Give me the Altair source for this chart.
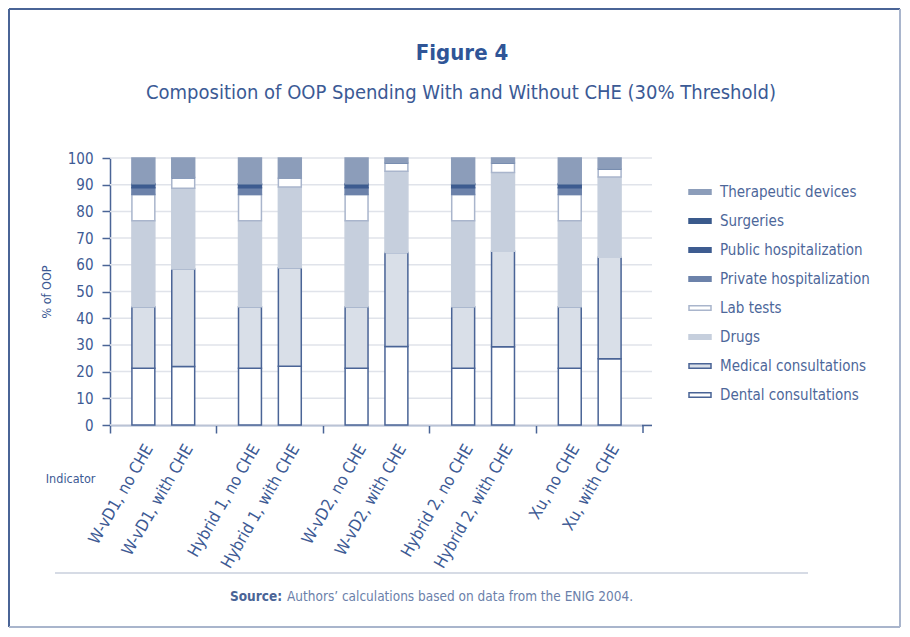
import altair as alt
import pandas as pd

# ---- data ----
groups = ["W-vD1", "Hybrid 1", "W-vD2", "Hybrid 2", "Xu"]
cases = ["no CHE", "with CHE"]
# stacking order, bottom to top
categories = ["Dental consultations", "Medical consultations", "Drugs", "Lab tests",
              "Private hospitalization", "Public hospitalization", "Surgeries",
              "Therapeutic devices"]
# values per category, one per group (W-vD1, Hybrid 1, W-vD2, Hybrid 2, Xu)
no_che = {
    "Dental consultations":    [21.3, 21.3, 21.3, 21.3, 21.3],
    "Medical consultations":   [23.0, 23.0, 23.0, 23.0, 23.0],
    "Drugs":                   [32.2, 32.2, 32.2, 32.2, 32.2],
    "Lab tests":               [9.8, 9.8, 9.8, 9.8, 9.8],
    "Private hospitalization": [2.6, 2.6, 2.6, 2.6, 2.6],
    "Public hospitalization":  [1.2, 1.2, 1.2, 1.2, 1.2],
    "Surgeries":               [0.3, 0.3, 0.3, 0.3, 0.3],
    "Therapeutic devices":     [9.6, 9.6, 9.6, 9.6, 9.6],
}
with_che = {
    "Dental consultations":    [21.9, 22.0, 29.4, 29.3, 24.8],
    "Medical consultations":   [36.5, 36.9, 35.2, 35.8, 38.0],
    "Drugs":                   [30.3, 30.2, 30.4, 29.5, 30.1],
    "Lab tests":               [4.0, 3.3, 3.1, 3.5, 3.0],
    "Private hospitalization": [0.0, 0.0, 0.0, 0.0, 0.0],
    "Public hospitalization":  [0.0, 0.0, 0.0, 0.0, 0.0],
    "Surgeries":               [0.0, 0.0, 0.0, 0.0, 0.0],
    "Therapeutic devices":     [7.3, 7.6, 1.9, 1.9, 4.1],
}
y_ticks = [0, 10, 20, 30, 40, 50, 60, 70, 80, 90, 100]
legend_order = categories[::-1]
fill_colors = {
    "Therapeutic devices": "#8c9dba",
    "Surgeries": "#3a5a8c",
    "Public hospitalization": "#3e5c90",
    "Private hospitalization": "#6c82aa",
    "Lab tests": "#ffffff",
    "Drugs": "#c6cfdd",
    "Medical consultations": "#d9dfe8",
    "Dental consultations": "#ffffff",
}
stroke_colors = {
    "Therapeutic devices": "#8c9dba",
    "Surgeries": "#3a5a8c",
    "Public hospitalization": "#3e5c90",
    "Private hospitalization": "#6c82aa",
    "Lab tests": "#a9b5cc",
    "Drugs": "#c6cfdd",
    "Medical consultations": "#4a6496",
    "Dental consultations": "#4a6496",
}

rows = []
for case, table in zip(cases, [no_che, with_che]):
    for gi, g in enumerate(groups):
        for ci, c in enumerate(categories):
            rows.append({"group": g, "case": case, "category": c, "ord": ci,
                         "value": table[c][gi], "label": f"{g}, {case}"})
df = pd.DataFrame(rows)
labels_df = df[df["ord"] == 0]
grid_df = pd.DataFrame({"v": y_ticks})

FONT = "DejaVu Sans Condensed, Liberation Sans Narrow, Lato, sans-serif"
W, H = 533, 267
PL, PT = 102, 150
TOTW, TOTH = 893, 620
yscale = alt.Scale(domain=[0, 100])
y_axis = alt.Axis(values=y_ticks, tickSize=8, grid=False, labelOverlap=False,
                  title="% of OOP", titleFontSize=12.5, titleFontWeight="normal",
                  titleColor="#3d5a94", titleFont=FONT, titlePadding=14,
                  labelFontSize=15, labelColor="#3d5a94", labelFont=FONT,
                  labelPadding=9)

xenc = alt.X("group:N", sort=groups,
             scale=alt.Scale(paddingInner=0, paddingOuter=0),
             axis=alt.Axis(labels=False, bandPosition=0, tickSize=8, grid=False,
                           title="Indicator", titleAngle=0, titleX=-15, titleY=53,
                           titleAlign="right", titleBaseline="middle",
                           titleFontSize=12.5, titleFontWeight="normal",
                           titleColor="#3d5a94", titleFont=FONT))
xoff = alt.XOffset("case:N", sort=cases,
                   scale=alt.Scale(paddingInner=0.425, paddingOuter=0.55))

grid = alt.Chart(grid_df).mark_rule(color="#e0e3ea", strokeWidth=1.5).encode(
    y=alt.Y("v:Q", scale=yscale, axis=y_axis), x=alt.value(0), x2=alt.value(W + 9))

bars = alt.Chart(df).mark_bar(strokeWidth=1.5).encode(
    x=xenc,
    xOffset=xoff,
    y=alt.Y("sum(value):Q", stack="zero", scale=yscale, axis=y_axis),
    fill=alt.Fill("category:N",
                  scale=alt.Scale(domain=legend_order,
                                  range=[fill_colors[c] for c in legend_order]),
                  legend=alt.Legend(title=None, orient="none", legendX=578, legendY=22)),
    stroke=alt.Stroke("category:N",
                      scale=alt.Scale(domain=legend_order,
                                      range=[stroke_colors[c] for c in legend_order]),
                      legend=alt.Legend(title=None, orient="none", legendX=578, legendY=22)),
    order=alt.Order("ord:Q", sort="ascending"),
)

bar_labels = alt.Chart(labels_df).mark_text(
    angle=300, align="right", baseline="middle", fontSize=16.5, font=FONT,
    color="#3d5a94", dx=3, dy=5
).encode(
    x=alt.X("group:N", sort=groups),
    xOffset=alt.XOffset("case:N", sort=cases),
    y=alt.value(H + 21),
    text="label:N",
)

end_tick = alt.Chart(grid_df.head(1)).mark_rule(color="#4a6496", strokeWidth=1.5).encode(
    x=alt.value(W), y=alt.value(H), y2=alt.value(H + 8))
axis_ext = alt.Chart(grid_df.head(1)).mark_rule(color="#4a6496", strokeWidth=1.5).encode(
    x=alt.value(W - 1), x2=alt.value(W + 9), y=alt.value(H + 0.5))

title_df = pd.DataFrame({"t": ["Figure 4"]})
sub_df = pd.DataFrame({"t": ["Composition of OOP Spending With and Without CHE (30% Threshold)"]})
title = alt.Chart(title_df).mark_text(fontSize=22, fontWeight="bold", font=FONT,
                                      color="#2f5597", align="center", baseline="alphabetic").encode(
    x=alt.value(462 - 110), y=alt.value(60 - 158), text="t:N")
subtitle = alt.Chart(sub_df).mark_text(fontSize=20, font=FONT, color="#3b5a95",
                                       align="center", baseline="alphabetic").encode(
    x=alt.value(461 - 110), y=alt.value(99 - 158), text="t:N")

src1_df = pd.DataFrame({"t": ["Source:"]})
src2_df = pd.DataFrame({"t": ["Authors\u2019 calculations based on data from the ENIG 2004."]})
src1 = alt.Chart(src1_df).mark_text(fontSize=13.5, fontWeight="bold", font=FONT,
                                    color="#4a6496", align="left", baseline="alphabetic").encode(
    x=alt.value(230 - 110), y=alt.value(601 - 158), text="t:N")
src2 = alt.Chart(src2_df).mark_text(fontSize=13.5, font=FONT, color="#6b7faa",
                                    align="left", baseline="alphabetic").encode(
    x=alt.value(287 - 110), y=alt.value(601 - 158), text="t:N")

sep = alt.Chart(title_df).mark_rule(color="#c9cfdc", strokeWidth=1.5).encode(
    x=alt.value(55 - 110), x2=alt.value(808 - 110), y=alt.value(573 - 158))

border_dark = alt.Chart(title_df).mark_rule(color="#4a6496", strokeWidth=2).encode(
    x=alt.value(-PL + 1), x2=alt.value(TOTW - PL - 1), y=alt.value(-PT + 1))
border_dark2 = alt.Chart(title_df).mark_rule(color="#4a6496", strokeWidth=2).encode(
    x=alt.value(-PL + 1), y=alt.value(-PT + 1), y2=alt.value(TOTH - PT - 1))
border_light = alt.Chart(title_df).mark_rule(color="#a9b5cc", strokeWidth=2).encode(
    x=alt.value(-PL + 1), x2=alt.value(TOTW - PL - 1), y=alt.value(TOTH - PT - 1))
border_light2 = alt.Chart(title_df).mark_rule(color="#a9b5cc", strokeWidth=2).encode(
    x=alt.value(TOTW - PL - 1), y=alt.value(-PT + 1), y2=alt.value(TOTH - PT - 1))

chart = alt.layer(
    grid, bars, bar_labels, end_tick, axis_ext, title, subtitle, src1, src2, sep,
    border_dark, border_dark2, border_light, border_light2
).properties(
    width=W, height=H,
    autosize=alt.AutoSizeParams(type="none"),
    padding={"left": PL, "top": PT, "right": TOTW - PL - W, "bottom": TOTH - PT - H},
).configure_view(stroke=None).configure_axis(
    domainColor="#4a6496", domainWidth=1.5, tickColor="#4a6496", tickWidth=1.5,
).configure_legend(
    symbolType="M-1,-0.2H1V0.2H-1Z", symbolSize=484, symbolStrokeWidth=1.5,
    labelFontSize=15, labelFont=FONT, labelColor="#4d679a", rowPadding=9,
    padding=0, labelOffset=8, labelLimit=300,
)

chart.save("out.html", embed_options={"renderer": "svg", "actions": False})
